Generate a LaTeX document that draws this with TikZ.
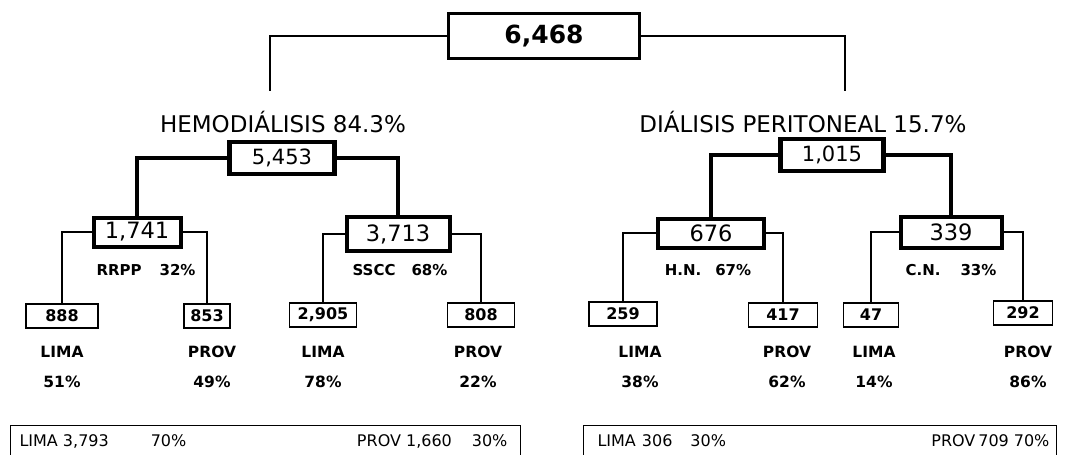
\documentclass[tikz,border=0pt]{standalone}
\usepackage{fontspec}
\setmainfont{DejaVu Sans}
\usetikzlibrary{positioning}

\begin{document}
\begin{tikzpicture}[x=1pt, y=-1pt,
  totbox/.style={draw, line width=2.5pt, inner sep=0pt, font=\fontsize{25}{28}\selectfont\bfseries},
  modbox/.style={draw, line width=4.5pt, inner sep=0pt, font=\fontsize{21}{24}\selectfont},
  grpbox/.style={draw, line width=4pt, inner sep=0pt, font=\fontsize{22.5}{26}\selectfont},
  leafbox/.style={draw, line width=1.2pt, inner sep=0pt, minimum height=24pt, font=\fontsize{16}{19}\selectfont\bfseries},
  modtitle/.style={font=\fontsize{23}{26}\selectfont},
  grplbl/.style={font=\fontsize{15}{18}\selectfont\bfseries},
  leaflbl/.style={align=center, font=\fontsize{15.5}{18}\selectfont\bfseries},
  sumbox/.style={draw, line width=1.2pt, inner sep=0pt, minimum height=50pt, anchor=north west},
  sumtxt/.style={font=\fontsize{16}{19}\selectfont},
  link/.style={line width=1.5pt},
  thicklink/.style={line width=4.5pt}
]
\useasboundingbox (0,0) rectangle (1082,455);

% total and the two modalities
\node[totbox, minimum width=191pt, minimum height=45pt] (total) at (544,36) {6,468};
\node[modtitle] (hdlbl) at (283,122) {HEMODIÁLISIS 84.3\%};
\node[modtitle] (dplbl) at (803,122) {DIÁLISIS PERITONEAL 15.7\%};
\coordinate (hdtop) at (270,91);
\coordinate (dptop) at (845,91);
\node[modbox, minimum width=105pt, minimum height=32pt] (hd) at (282,158) {5,453};
\node[modbox, minimum width=103pt, minimum height=32pt] (dp) at (832,155) {1,015};

\draw[link] (total.west) -| (hdtop);
\draw[link] (total.east) -| (dptop);

% groups
\node[grpbox, minimum width=87pt, minimum height=29pt] (rrpp) at (137,232) {1,741};
\node[grpbox, minimum width=103pt, minimum height=34pt] (sscc) at (398,234) {3,713};
\node[grpbox, minimum width=106pt, minimum height=29pt] (hn) at (711,233) {676};
\node[grpbox, minimum width=101pt, minimum height=31pt] (cn) at (951,232) {339};

\node[grplbl] (rrpplbl) at (146,270) {RRPP\hspace{18pt}32\%};
\node[grplbl] (sscclbl) at (400,270) {SSCC\hspace{16pt}68\%};
\node[grplbl] (hnlbl) at (708,270) {H.N.\hspace{14pt}67\%};
\node[grplbl] (cnlbl) at (951,270) {C.N.\hspace{20pt}33\%};

\draw[thicklink] (hd.west) -| (rrpp.north);
\draw[thicklink] (hd.east) -| (sscc.north);
\draw[thicklink] (dp.west) -| (hn.north);
\draw[thicklink] (dp.east) -| (cn.north);

% lima / provincias
\node[leafbox, minimum width=72pt] (rrppl) at (62,316) {888};
\node[leafbox, minimum width=46pt] (rrppp) at (207,316) {853};
\node[leafbox, minimum width=67pt] (ssccl) at (323,315) {2,905};
\node[leafbox, minimum width=67pt] (ssccp) at (481,315) {808};
\node[leafbox, minimum width=68pt] (hnl) at (623,314) {259};
\node[leafbox, minimum width=69pt] (hnp) at (783,315) {417};
\node[leafbox, minimum width=55pt] (cnl) at (871,315) {47};
\node[leafbox, minimum width=59pt] (cnp) at (1023,313) {292};

\draw[link] (rrpp.west) -| (rrppl.north);
\draw[link] (rrpp.east) -| (rrppp.north);
\draw[link] (sscc.west) -| (ssccl.north);
\draw[link] (sscc.east) -| (ssccp.north);
\draw[link] (hn.west) -| (hnl.north);
\draw[link] (hn.east) -| (hnp.north);
\draw[link] (cn.west) -| (cnl.north);
\draw[link] (cn.east) -| (cnp.north);

\node[leaflbl] (rrppllbl) at (62,367) {LIMA\\[12pt]51\%};
\node[leaflbl] (rrppplbl) at (212,367) {PROV\\[12pt]49\%};
\node[leaflbl] (sscclbl2) at (323,367) {LIMA\\[12pt]78\%};
\node[leaflbl] (ssccplbl) at (478,367) {PROV\\[12pt]22\%};
\node[leaflbl] (hnllbl) at (640,367) {LIMA\\[12pt]38\%};
\node[leaflbl] (hnplbl) at (787,367) {PROV\\[12pt]62\%};
\node[leaflbl] (cnllbl) at (874,367) {LIMA\\[12pt]14\%};
\node[leaflbl] (cnplbl) at (1028,367) {PROV\\[12pt]86\%};

% totals per modality
\node[sumbox, minimum width=510pt] (hdsum) at (10,425) {};
\node[sumbox, minimum width=473pt] (dpsum) at (583,425) {};
\node[sumtxt, anchor=west] (hdsuml) at (16,441) {LIMA 3,793\hspace{42pt}70\%};
\node[sumtxt, anchor=east] (hdsump) at (511,441) {PROV 1,660\hspace{20pt}30\%};
\node[sumtxt, anchor=west] (dpsuml) at (594,441) {LIMA\hspace{6pt}306\hspace{18pt}30\%};
\node[sumtxt, anchor=east] (dpsump) at (1053,441) {PROV\hspace{3pt}709\hspace{5pt}70\%};
\end{tikzpicture}
\end{document}
